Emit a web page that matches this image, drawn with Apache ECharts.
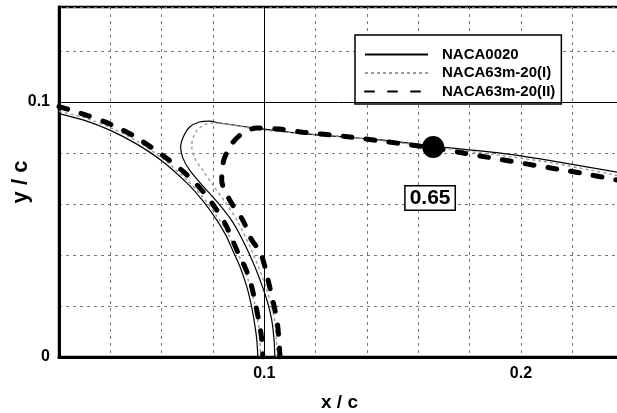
<!DOCTYPE html>
<html><head><meta charset="utf-8">
<script src="https://cdn.jsdelivr.net/npm/echarts@6/dist/echarts.min.js"></script>
<style>html,body{margin:0;padding:0;background:#fff}#c{width:617px;height:413px}</style>
</head><body><div id="c"></div>
<script>
const seriesNames = ['NACA0020', 'NACA63m-20(I)', 'NACA63m-20(II)'];
const xTickLabels = ['0.1', '0.2'];
const yTickLabels = ['0', '0.1'];

// NACA0020 (solid)
const naca0020Inner = [[0.0200,0.0955],[0.0300,0.0928],[0.0400,0.0889],[0.0500,0.0837],[0.0600,0.0770],[0.0700,0.0681],[0.0760,0.0613],[0.0815,0.0537],[0.0850,0.0478],[0.0877,0.0418],[0.0905,0.0355],[0.0932,0.0275],[0.0950,0.0200],[0.0960,0.0145],[0.0970,0.0075],[0.0975,0.0000]];
const naca0020Outer = [[0.1041,0.0000],[0.1038,0.0067],[0.1029,0.0145],[0.1014,0.0210],[0.0993,0.0275],[0.0968,0.0342],[0.0940,0.0408],[0.0908,0.0474],[0.0875,0.0532],[0.0838,0.0582],[0.0800,0.0627],[0.0764,0.0667],[0.0709,0.0733],[0.0682,0.0782],[0.0674,0.0824],[0.0686,0.0867],[0.0709,0.0902],[0.0748,0.0922],[0.0787,0.0925],[0.0826,0.0918],[0.0998,0.0894],[0.1205,0.0871],[0.1451,0.0852],[0.1658,0.0827],[0.1919,0.0800],[0.2075,0.0777],[0.2376,0.0725]];
// NACA63m-20(I) (grey dotted)
const naca63IInner = [[0.0200,0.0964],[0.0300,0.0938],[0.0400,0.0900],[0.0500,0.0849],[0.0600,0.0781],[0.0700,0.0693],[0.0760,0.0627],[0.0815,0.0553],[0.0850,0.0498],[0.0900,0.0400],[0.0940,0.0294],[0.0960,0.0220],[0.0975,0.0140],[0.0983,0.0070],[0.0985,0.0000]];
const naca63IOuter = [[0.1049,0.0000],[0.1047,0.0070],[0.1040,0.0145],[0.1025,0.0210],[0.1006,0.0275],[0.0955,0.0408],[0.0893,0.0537],[0.0850,0.0604],[0.0799,0.0675],[0.0760,0.0733],[0.0729,0.0780],[0.0717,0.0831],[0.0733,0.0882],[0.0764,0.0910],[0.0799,0.0918],[0.0998,0.0890],[0.1334,0.0862],[0.1658,0.0824],[0.2075,0.0769],[0.2376,0.0712]];
// NACA63m-20(II) (thick dashed)
const naca63IIInner = [[0.0200,0.0982],[0.0300,0.0951],[0.0400,0.0913],[0.0500,0.0862],[0.0619,0.0780],[0.0690,0.0722],[0.0756,0.0655],[0.0807,0.0588],[0.0850,0.0518],[0.0897,0.0410],[0.0930,0.0340],[0.0951,0.0275],[0.0978,0.0145],[0.0990,0.0070],[0.0994,0.0000]];
const naca63IIOuter = [[0.1061,0.0000],[0.1057,0.0067],[0.1049,0.0145],[0.1021,0.0275],[0.0986,0.0408],[0.0951,0.0459],[0.0916,0.0537],[0.0865,0.0616],[0.0834,0.0694],[0.0838,0.0753],[0.0846,0.0784],[0.0869,0.0831],[0.0897,0.0863],[0.0928,0.0886],[0.0970,0.0898],[0.1061,0.0894],[0.1150,0.0882],[0.1334,0.0863],[0.1517,0.0839],[0.1658,0.0820],[0.1775,0.0800],[0.1868,0.0784],[0.2141,0.0737],[0.2231,0.0722],[0.2376,0.0694]];

const markerPoint = [[0.1658, 0.0824]];
const annotationPoint = [[0.1646, 0.0624]];
const annotationText = '0.65';

const FONT = 'Liberation Sans, Arial, sans-serif';
function fmt(list) {
  return function (v) {
    const s = String(Math.round(v * 1000) / 1000);
    return list.indexOf(s) >= 0 ? s : '';
  };
}
const solidStyle = { color: '#000', width: 1.2, type: 'solid' };
const greyStyle = { color: '#9a9a9a', width: 1.4, type: [3, 3] };
const dashStyle = { color: '#000', width: 5, type: [9, 14], cap: 'round' };

function lineSeries(name, data, style, extra) {
  return Object.assign({
    name: name, type: 'line', data: data, symbol: 'none', showSymbol: false, smooth: 0.3,
    lineStyle: style, itemStyle: { color: style.color }, silent: true
  }, extra || {});
}

const chart = echarts.init(document.getElementById('c'), null, { renderer: 'canvas' });
chart.setOption({
  animation: false,
  backgroundColor: '#fff',
  grid: { left: 59, right: -3, top: 7, bottom: 56, show: true, borderColor: '#000', borderWidth: 2.5, backgroundColor: 'transparent', containLabel: false, outerBoundsMode: 'none' },
  xAxis: {
    type: 'value', min: 0.02, max: 0.2386, interval: 0.02,
    axisLine: { show: true, lineStyle: { color: '#000', width: 3 } },
    axisTick: { show: false },
    axisLabel: { formatter: fmt(xTickLabels), color: '#000', fontFamily: FONT, fontWeight: 'bold', fontSize: 16, margin: 9, showMaxLabel: false },
    splitLine: { show: true, lineStyle: { color: '#777', width: 1, type: [3, 4] } },
    name: 'x / c', nameLocation: 'middle', nameGap: 36, nameMoveOverlap: false,
    nameTextStyle: { color: '#000', fontFamily: FONT, fontWeight: 'bold', fontSize: 19 }
  },
  yAxis: {
    type: 'value', min: 0, max: 0.1373, interval: 0.02,
    axisLine: { show: true, lineStyle: { color: '#000', width: 3 } },
    axisTick: { show: false },
    axisLabel: { formatter: fmt(yTickLabels), color: '#000', fontFamily: FONT, fontWeight: 'bold', fontSize: 16, margin: 9, showMaxLabel: false },
    splitLine: { show: true, lineStyle: { color: '#777', width: 1, type: [3, 4] } },
    name: 'y / c', nameLocation: 'middle', nameGap: 27, nameRotate: 90, nameMoveOverlap: false,
    nameTextStyle: { color: '#000', fontFamily: FONT, fontWeight: 'bold', fontSize: 22 }
  },
  legend: {
    data: seriesNames, orient: 'vertical', left: 355, top: 35,
    backgroundColor: '#fff', borderColor: '#000', borderWidth: 1.5, borderRadius: 0,
    padding: [12, 6, 5, 9], itemWidth: 63, itemHeight: 14, itemGap: 3.5,
    itemStyle: { color: 'rgba(0,0,0,0)', borderWidth: 0, opacity: 0 },
    textStyle: { fontFamily: FONT, fontWeight: 'bold', fontSize: 15, color: '#000', padding: [0, 0, 0, 9] },
    selectedMode: false
  },
  series: [
    lineSeries(seriesNames[0], naca0020Inner, solidStyle, {
      markLine: {
        silent: true, symbol: ['none', 'none'], label: { show: false },
        lineStyle: { color: '#000', width: 1, type: 'solid' },
        data: [{ xAxis: 0.1 }, { yAxis: 0.1 }]
      }
    }),
    lineSeries(seriesNames[0], naca0020Outer, solidStyle),
    lineSeries(seriesNames[1], naca63IInner, greyStyle),
    lineSeries(seriesNames[1], naca63IOuter, greyStyle),
    lineSeries(seriesNames[2], naca63IIInner, dashStyle),
    lineSeries(seriesNames[2], naca63IIOuter, dashStyle),
    {
      name: 'marker', type: 'scatter', data: markerPoint, symbol: 'circle', symbolSize: 22,
      itemStyle: { color: '#000', opacity: 1 }, silent: true, z: 5
    },
    {
      name: 'annotation', type: 'scatter', data: annotationPoint, symbolSize: 0, silent: true, z: 6,
      itemStyle: { opacity: 1 },
      label: {
        show: true, position: 'inside', formatter: annotationText,
        fontFamily: FONT, fontWeight: 'bold', fontSize: 21, color: '#000',
        backgroundColor: '#fff', borderColor: '#000', borderWidth: 1.5, padding: [2, 4, 0, 4]
      }
    }
  ]
});
</script>
</body></html>
